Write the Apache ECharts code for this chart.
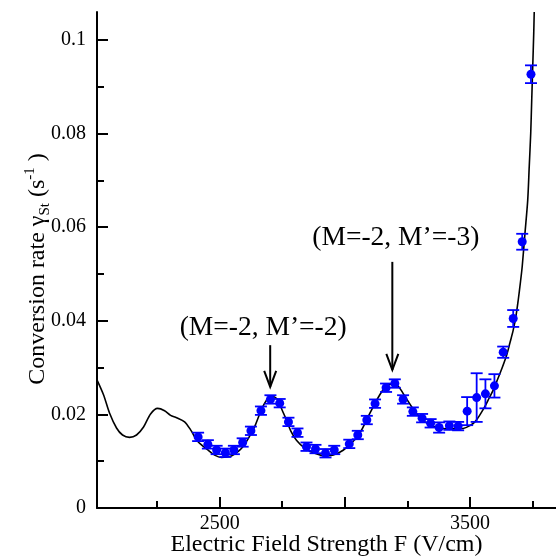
<!DOCTYPE html>
<html>
<head>
<meta charset="utf-8">
<script src="https://cdn.jsdelivr.net/npm/echarts@6/dist/echarts.min.js"></script>
<style>
  html, body { margin: 0; padding: 0; background: #ffffff; }
  #chart { width: 556px; height: 556px; }
</style>
</head>
<body>
<div id="chart"></div>
<script>
// Measured conversion rates with their uncertainties
const fieldValues = [2414, 2453, 2488, 2523, 2557, 2592, 2625, 2665, 2703, 2740,
                     2775, 2811, 2847, 2883, 2923, 2958, 3018, 3052, 3088, 3121,
                     3165, 3200, 3233, 3272, 3309, 3343, 3377, 3418, 3453, 3489,
                     3527, 3562, 3598, 3633, 3673, 3709, 3744];
const rateValues = [0.0152, 0.0136, 0.0124, 0.0118, 0.0124, 0.0140, 0.0165, 0.0208, 0.0232, 0.0224,
                    0.0184, 0.0161, 0.0131, 0.0126, 0.0117, 0.0124, 0.0137, 0.0156, 0.0188, 0.0223,
                    0.0257, 0.0266, 0.0232, 0.0206, 0.0192, 0.0181, 0.0172, 0.0176, 0.0175, 0.0207,
                    0.0236, 0.0244, 0.0261, 0.0333, 0.0405, 0.0569, 0.0927];
const rateErrors = [0.0009, 0.0009, 0.0009, 0.0009, 0.0009, 0.0009, 0.0009, 0.0009, 0.0009, 0.0009,
                    0.0009, 0.0009, 0.0009, 0.0009, 0.0009, 0.0009, 0.0009, 0.0009, 0.0009, 0.0009,
                    0.0009, 0.0009, 0.0009, 0.0009, 0.0009, 0.0009, 0.0011, 0.0009, 0.0009, 0.0030,
                    0.0052, 0.0031, 0.0025, 0.0012, 0.0018, 0.0017, 0.0019];

// Calculated conversion rate curve
const theoryField = [2008, 2036, 2060, 2088, 2112, 2140, 2168, 2196, 2224, 2252,
                     2280, 2304, 2328, 2360, 2384, 2413, 2453, 2480, 2507, 2547,
                     2572, 2593, 2616, 2640, 2660, 2680, 2704, 2720, 2733, 2750,
                     2767, 2784, 2807, 2840, 2880, 2927, 2973, 3020, 3060, 3100,
                     3140, 3164, 3188, 3212, 3233, 3252, 3273, 3296, 3320, 3367,
                     3420, 3473, 3500, 3520, 3540, 3560, 3576, 3593, 3610, 3627,
                     3647, 3660, 3673, 3684, 3693, 3702, 3709, 3720, 3731, 3737,
                     3743, 3747, 3751, 3755, 3757];
const theoryRate = [0.0276, 0.0242, 0.0203, 0.0171, 0.0156, 0.0151, 0.0156, 0.0173, 0.0201, 0.0213,
                    0.0208, 0.0198, 0.0193, 0.0184, 0.0167, 0.0142, 0.0124, 0.0113, 0.0108, 0.0111,
                    0.0120, 0.0131, 0.0150, 0.0174, 0.0201, 0.0224, 0.0239, 0.0237, 0.0231, 0.0209,
                    0.0188, 0.0165, 0.0145, 0.0128, 0.0117, 0.0111, 0.0117, 0.0135, 0.0160, 0.0202,
                    0.0242, 0.0259, 0.0265, 0.0261, 0.0245, 0.0229, 0.0212, 0.0196, 0.0184, 0.0172,
                    0.0169, 0.0170, 0.0176, 0.0184, 0.0199, 0.0217, 0.0234, 0.0252, 0.0274, 0.0297,
                    0.0327, 0.0353, 0.0380, 0.0410, 0.0444, 0.0483, 0.0516, 0.0587, 0.0658, 0.0729,
                    0.0801, 0.0872, 0.0943, 0.1014, 0.1060];

// Axis ticks and labels
const xMajorTicks = [2500, 3000, 3500];
const xMinorTicks = [2250, 2750, 3250, 3750];
const xTickLabels = [2500, 3500];
const yMajorTicks = [0, 0.02, 0.04, 0.06, 0.08, 0.1];
const yMinorTicks = [0.01, 0.03, 0.05, 0.07, 0.09];

// Resonance annotations
const peakLabels = ['(M=-2, M\u2019=-2)', '(M=-2, M\u2019=-3)'];
const labelField = [2674, 3204];
const labelRate = [0.0385, 0.0577];
const arrowField = [2702, 3190];
const arrowFrom = [0.0348, 0.0526];
const arrowTo = [0.0259, 0.0295];

const SERIF = '"Liberation Serif", "Times New Roman", serif';
const BLUE = '#0000ff';

const measured = fieldValues.map((f, i) => [f, rateValues[i]]);
const errorBars = fieldValues.map((f, i) => [f, rateValues[i], rateErrors[i]]);
const theory = theoryField.map((f, i) => [f, theoryRate[i]]);
const labels = labelField.map((f, i) => ({ value: [f, labelRate[i]], name: peakLabels[i] }));
const arrows = arrowField.map((f, i) => [f, arrowFrom[i], arrowTo[i]]);

const chart = echarts.init(document.getElementById('chart'), null, { renderer: 'canvas' });

const axisLineStyle = { color: '#000', width: 2 };

chart.setOption({
  animation: false,
  backgroundColor: '#ffffff',
  grid: { left: 97, right: 0, top: 12, bottom: 48, containLabel: false, outerBoundsMode: 'none' },
  xAxis: [
    {
      type: 'value', min: 2010, max: 3844,
      axisLine: { onZero: false, lineStyle: axisLineStyle },
      axisTick: { inside: true, length: 11, customValues: xMajorTicks, lineStyle: { color: '#000', width: 2 } },
      axisLabel: {
        customValues: xTickLabels, color: '#000', fontFamily: SERIF, fontSize: 20, margin: 6,
        formatter: function (v) { return String(v); }
      },
      splitLine: { show: false },
      name: 'Electric Field Strength F (V/cm)',
      nameLocation: 'middle', nameGap: 25, nameMoveOverlap: false,
      nameTextStyle: { color: '#000', fontFamily: SERIF, fontSize: 24 }
    },
    {
      type: 'value', min: 2010, max: 3844, position: 'bottom',
      axisLine: { show: false, onZero: false },
      axisTick: { inside: true, length: 7, customValues: xMinorTicks, lineStyle: { color: '#000', width: 2 } },
      axisLabel: { show: false },
      splitLine: { show: false }
    }
  ],
  yAxis: [
    {
      type: 'value', min: 0, max: 0.106,
      axisLine: { show: true, onZero: false, lineStyle: axisLineStyle },
      axisTick: { show: true, inside: true, length: 11, customValues: yMajorTicks, lineStyle: { color: '#000', width: 2 } },
      axisLabel: { customValues: yMajorTicks, color: '#000', fontFamily: SERIF, fontSize: 20, margin: 11 },
      splitLine: { show: false },
      name: '{t|Conversion rate \u03b3}{sub|St}{t| (s}{sup|-1}{t| )}',
      nameLocation: 'middle', nameRotate: 90, nameGap: 44, nameMoveOverlap: false,
      nameTextStyle: {
        color: '#000', fontFamily: SERIF, fontSize: 24,
        padding: [0, 18, 0, 0],
        rich: {
          t: { fontFamily: SERIF, fontSize: 24, color: '#000', lineHeight: 30 },
          sub: { fontFamily: SERIF, fontSize: 15, color: '#000', lineHeight: 15, verticalAlign: 'bottom' },
          sup: { fontFamily: SERIF, fontSize: 15, color: '#000', lineHeight: 15, verticalAlign: 'top' }
        }
      }
    },
    {
      type: 'value', min: 0, max: 0.106, position: 'left',
      axisLine: { show: false, onZero: false },
      axisTick: { show: true, inside: true, length: 7, customValues: yMinorTicks, lineStyle: { color: '#000', width: 2 } },
      axisLabel: { show: false },
      splitLine: { show: false }
    }
  ],
  series: [
    {
      name: 'theory', type: 'line', data: theory, smooth: 0.3,
      showSymbol: false, symbol: 'none', silent: true, z: 2,
      lineStyle: { color: '#000', width: 1.6 }
    },
    {
      name: 'errors', type: 'custom', data: errorBars, z: 3, silent: true,
      renderItem: function (params, api) {
        const f = api.value(0), r = api.value(1), e = api.value(2);
        const hi = api.coord([f, r + e]);
        const lo = api.coord([f, r - e]);
        const w = 6;
        const st = { stroke: BLUE, lineWidth: 1.8 };
        return {
          type: 'group',
          children: [
            { type: 'line', shape: { x1: hi[0], y1: hi[1], x2: lo[0], y2: lo[1] }, style: st },
            { type: 'line', shape: { x1: hi[0] - w, y1: hi[1], x2: hi[0] + w, y2: hi[1] }, style: st },
            { type: 'line', shape: { x1: lo[0] - w, y1: lo[1], x2: lo[0] + w, y2: lo[1] }, style: st }
          ]
        };
      }
    },
    {
      name: 'measured', type: 'scatter', data: measured, z: 4,
      symbol: 'circle', symbolSize: 9,
      itemStyle: { color: BLUE, opacity: 1 }
    },
    {
      name: 'arrows', type: 'custom', data: arrows, z: 5, silent: true,
      renderItem: function (params, api) {
        const f = api.value(0);
        const a = api.coord([f, api.value(1)]);
        const b = api.coord([f, api.value(2)]);
        const st = { stroke: '#000', lineWidth: 2, fill: null };
        return {
          type: 'group',
          children: [
            { type: 'line', shape: { x1: a[0], y1: a[1], x2: b[0], y2: b[1] }, style: st },
            { type: 'polyline', shape: { points: [[b[0] - 6, b[1] - 16], [b[0], b[1]], [b[0] + 6, b[1] - 16]] }, style: st }
          ]
        };
      }
    },
    {
      name: 'labels', type: 'scatter', data: labels, z: 5, silent: true,
      symbolSize: 0,
      itemStyle: { opacity: 1 },
      label: {
        show: true, position: 'inside', formatter: '{b}',
        color: '#000', fontFamily: SERIF, fontSize: 27.5
      }
    }
  ]
});
</script>
</body>
</html>
